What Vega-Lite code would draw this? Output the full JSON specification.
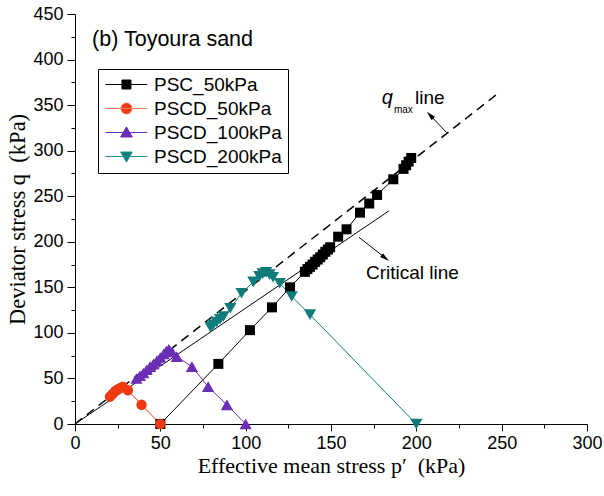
{
  "$schema": "https://vega.github.io/schema/vega-lite/v6.json",
  "width": 512,
  "height": 410,
  "autosize": {"type": "none"},
  "padding": {"left": 75, "top": 14, "right": 17, "bottom": 72},
  "background": "white",
  "config": {"view": {"stroke": null}, "font": "Liberation Sans"},
  "datasets": {
    "tests": [
      {"series": "PSC_50kPa", "i": 1, "p": 50, "q": 0},
      {"series": "PSC_50kPa", "i": 2, "p": 84, "q": 66},
      {"series": "PSC_50kPa", "i": 3, "p": 102.5, "q": 103},
      {"series": "PSC_50kPa", "i": 4, "p": 115.4, "q": 128},
      {"series": "PSC_50kPa", "i": 5, "p": 126, "q": 150},
      {"series": "PSC_50kPa", "i": 6, "p": 134.7, "q": 167},
      {"series": "PSC_50kPa", "i": 7, "p": 136.2, "q": 170},
      {"series": "PSC_50kPa", "i": 8, "p": 137.7, "q": 172.5},
      {"series": "PSC_50kPa", "i": 9, "p": 139.2, "q": 175},
      {"series": "PSC_50kPa", "i": 10, "p": 140.7, "q": 178},
      {"series": "PSC_50kPa", "i": 11, "p": 142.2, "q": 180.5},
      {"series": "PSC_50kPa", "i": 12, "p": 143.7, "q": 183},
      {"series": "PSC_50kPa", "i": 13, "p": 145.2, "q": 186},
      {"series": "PSC_50kPa", "i": 14, "p": 146.7, "q": 189},
      {"series": "PSC_50kPa", "i": 15, "p": 148.2, "q": 191.5},
      {"series": "PSC_50kPa", "i": 16, "p": 149.5, "q": 194},
      {"series": "PSC_50kPa", "i": 17, "p": 154.2, "q": 205.6},
      {"series": "PSC_50kPa", "i": 18, "p": 159.1, "q": 213.7},
      {"series": "PSC_50kPa", "i": 19, "p": 167, "q": 232},
      {"series": "PSC_50kPa", "i": 20, "p": 172.4, "q": 242},
      {"series": "PSC_50kPa", "i": 21, "p": 177, "q": 251.4},
      {"series": "PSC_50kPa", "i": 22, "p": 186.5, "q": 268.6},
      {"series": "PSC_50kPa", "i": 23, "p": 192.5, "q": 280},
      {"series": "PSC_50kPa", "i": 24, "p": 194, "q": 284},
      {"series": "PSC_50kPa", "i": 25, "p": 195.5, "q": 288},
      {"series": "PSC_50kPa", "i": 26, "p": 197, "q": 292},
      {"series": "PSCD_50kPa", "i": 1, "p": 50, "q": 0},
      {"series": "PSCD_50kPa", "i": 2, "p": 39, "q": 21},
      {"series": "PSCD_50kPa", "i": 3, "p": 31, "q": 37},
      {"series": "PSCD_50kPa", "i": 4, "p": 28, "q": 41},
      {"series": "PSCD_50kPa", "i": 5, "p": 26.5, "q": 39.5},
      {"series": "PSCD_50kPa", "i": 6, "p": 25, "q": 38},
      {"series": "PSCD_50kPa", "i": 7, "p": 23.5, "q": 36},
      {"series": "PSCD_50kPa", "i": 8, "p": 22, "q": 33},
      {"series": "PSCD_50kPa", "i": 9, "p": 20.5, "q": 30},
      {"series": "PSCD_100kPa", "i": 1, "p": 100, "q": 0},
      {"series": "PSCD_100kPa", "i": 2, "p": 89, "q": 21},
      {"series": "PSCD_100kPa", "i": 3, "p": 78, "q": 41},
      {"series": "PSCD_100kPa", "i": 4, "p": 68.5, "q": 63},
      {"series": "PSCD_100kPa", "i": 5, "p": 59.6, "q": 74},
      {"series": "PSCD_100kPa", "i": 6, "p": 57, "q": 79},
      {"series": "PSCD_100kPa", "i": 7, "p": 55, "q": 82},
      {"series": "PSCD_100kPa", "i": 8, "p": 53.5, "q": 80},
      {"series": "PSCD_100kPa", "i": 9, "p": 52, "q": 77},
      {"series": "PSCD_100kPa", "i": 10, "p": 50, "q": 73},
      {"series": "PSCD_100kPa", "i": 11, "p": 48, "q": 69.5},
      {"series": "PSCD_100kPa", "i": 12, "p": 46, "q": 66},
      {"series": "PSCD_100kPa", "i": 13, "p": 44, "q": 63},
      {"series": "PSCD_100kPa", "i": 14, "p": 42, "q": 59.5},
      {"series": "PSCD_100kPa", "i": 15, "p": 40, "q": 56},
      {"series": "PSCD_100kPa", "i": 16, "p": 38, "q": 53},
      {"series": "PSCD_100kPa", "i": 17, "p": 36, "q": 50},
      {"series": "PSCD_200kPa", "i": 1, "p": 200, "q": 0},
      {"series": "PSCD_200kPa", "i": 2, "p": 137.7, "q": 120},
      {"series": "PSCD_200kPa", "i": 3, "p": 127, "q": 140},
      {"series": "PSCD_200kPa", "i": 4, "p": 120, "q": 154.5},
      {"series": "PSCD_200kPa", "i": 5, "p": 116, "q": 161},
      {"series": "PSCD_200kPa", "i": 6, "p": 114, "q": 164},
      {"series": "PSCD_200kPa", "i": 7, "p": 112, "q": 166.5},
      {"series": "PSCD_200kPa", "i": 8, "p": 110, "q": 165},
      {"series": "PSCD_200kPa", "i": 9, "p": 108, "q": 162},
      {"series": "PSCD_200kPa", "i": 10, "p": 104.5, "q": 156},
      {"series": "PSCD_200kPa", "i": 11, "p": 97.6, "q": 143.5},
      {"series": "PSCD_200kPa", "i": 12, "p": 91, "q": 127},
      {"series": "PSCD_200kPa", "i": 13, "p": 87, "q": 118},
      {"series": "PSCD_200kPa", "i": 14, "p": 85, "q": 115},
      {"series": "PSCD_200kPa", "i": 15, "p": 83, "q": 112},
      {"series": "PSCD_200kPa", "i": 16, "p": 81, "q": 109},
      {"series": "PSCD_200kPa", "i": 17, "p": 79.5, "q": 106}
    ]
  },
  "layer": [
    {
      "data": {"values": [{"p": 0, "q": 0}, {"p": 184, "q": 234}]},
      "mark": {"type": "line", "color": "black", "strokeWidth": 1},
      "encoding": {
        "x": {"field": "p", "type": "quantitative", "scale": {"domain": [0, 300], "nice": false},
          "axis": {"values": [0, 50, 100, 150, 200, 250, 300], "title": "Effective mean stress p′ \u00a0(kPa)",
            "titleFont": "Liberation Serif", "titleFontSize": 22, "titleFontWeight": "normal", "titleColor": "black", "titlePadding": 3,
            "labelFont": "Liberation Sans", "labelFontSize": 18, "labelColor": "black", "labelPadding": 3, "labelFlush": false, "labelOverlap": false,
            "tickColor": "black", "tickSize": 7, "domainColor": "black", "grid": false}},
        "y": {"field": "q", "type": "quantitative", "scale": {"domain": [0, 450], "nice": false},
          "axis": {"values": [0, 50, 100, 150, 200, 250, 300, 350, 400, 450], "title": "Deviator stress q \u00a0(kPa)",
            "titleFont": "Liberation Serif", "titleFontSize": 22.5, "titleFontWeight": "normal", "titleColor": "black", "titlePadding": 3,
            "labelFont": "Liberation Sans", "labelFontSize": 18, "labelColor": "black", "labelPadding": 4, "labelFlush": false, "labelOverlap": false,
            "tickColor": "black", "tickSize": 8, "domainColor": "black", "grid": false}}
      }
    },
    {
      "data": {"values": [{"p": 0, "q": 0}, {"p": 248, "q": 363}]},
      "mark": {"type": "line", "color": "black", "strokeWidth": 1.5, "strokeDash": [9, 6]},
      "encoding": {
        "x": {"field": "p", "type": "quantitative",
          "axis": {"orient": "bottom", "values": [25, 75, 125, 175, 225, 275], "labels": false, "domain": false, "tickSize": 4, "tickColor": "black", "title": null, "grid": false}},
        "y": {"field": "q", "type": "quantitative",
          "axis": {"orient": "left", "values": [25, 75, 125, 175, 225, 275, 325, 375, 425], "labels": false, "domain": false, "tickSize": 4, "tickColor": "black", "title": null, "grid": false}}
      }
    },
    {
      "data": {"name": "tests"},
      "mark": {"type": "line", "strokeWidth": 1},
      "encoding": {
        "x": {"field": "p", "type": "quantitative", "axis": null},
        "y": {"field": "q", "type": "quantitative", "axis": null},
        "detail": {"field": "series"},
        "order": {"field": "i", "type": "quantitative"},
        "color": {"field": "series", "type": "nominal",
          "scale": {"domain": ["PSCD_100kPa", "PSC_50kPa", "PSCD_200kPa", "PSCD_50kPa"], "range": ["#6a2db5", "#000000", "#0e7c7b", "#ee3a12"]},
          "legend": null}
      }
    },
    {
      "data": {"name": "tests"},
      "transform": [{"filter": "datum.series === 'PSC_50kPa'"}],
      "mark": {"type": "point", "filled": true, "opacity": 1, "strokeWidth": 0, "shape": "square", "size": 100, "color": "#000000"},
      "encoding": {
        "x": {"field": "p", "type": "quantitative", "axis": null},
        "y": {"field": "q", "type": "quantitative", "axis": null}
      }
    },
    {
      "data": {"name": "tests"},
      "transform": [{"filter": "datum.series === 'PSCD_50kPa'"}],
      "mark": {"type": "point", "filled": true, "opacity": 1, "strokeWidth": 0, "shape": "circle", "size": 110, "color": "#ee3a12"},
      "encoding": {
        "x": {"field": "p", "type": "quantitative", "axis": null},
        "y": {"field": "q", "type": "quantitative", "axis": null}
      }
    },
    {
      "data": {"name": "tests"},
      "transform": [{"filter": "datum.series === 'PSCD_100kPa'"}],
      "mark": {"type": "point", "filled": true, "opacity": 1, "strokeWidth": 0, "shape": "triangle-up", "size": 150, "color": "#6a2db5"},
      "encoding": {
        "x": {"field": "p", "type": "quantitative", "axis": null},
        "y": {"field": "q", "type": "quantitative", "axis": null}
      }
    },
    {
      "data": {"name": "tests"},
      "transform": [{"filter": "datum.series === 'PSCD_200kPa'"}],
      "mark": {"type": "point", "filled": true, "opacity": 1, "strokeWidth": 0, "shape": "triangle-down", "size": 150, "color": "#0e7c7b"},
      "encoding": {
        "x": {"field": "p", "type": "quantitative", "axis": null},
        "y": {"field": "q", "type": "quantitative", "axis": null}
      }
    },
    {
      "data": {"name": "tests"},
      "transform": [{"filter": "datum.i < 0"}],
      "mark": {"type": "point", "filled": true, "opacity": 1, "strokeWidth": 1},
      "encoding": {
        "x": {"field": "p", "type": "quantitative", "axis": null},
        "y": {"field": "q", "type": "quantitative", "axis": null},
        "fill": {"field": "series", "type": "nominal",
          "scale": {"domain": ["PSC_50kPa", "PSCD_50kPa", "PSCD_100kPa", "PSCD_200kPa"], "range": ["#000000", "#ee3a12", "#6a2db5", "#0e7c7b"]},
          "legend": {"orient": "none", "legendX": 23, "legendY": 55, "title": null, "strokeColor": "black", "padding": 6,
            "labelFont": "Liberation Sans", "labelFontSize": 19, "labelColor": "black", "labelOffset": 31, "rowPadding": 4,
            "symbolSize": 324, "symbolStrokeWidth": 1, "symbolOpacity": 1}},
        "stroke": {"field": "series", "type": "nominal",
          "scale": {"domain": ["PSC_50kPa", "PSCD_50kPa", "PSCD_100kPa", "PSCD_200kPa"], "range": ["#000000", "#f07a5a", "#6a2db5", "#2a8f8d"]},
          "legend": {"orient": "none", "legendX": 23, "legendY": 55, "title": null, "strokeColor": "black", "padding": 6,
            "labelFont": "Liberation Sans", "labelFontSize": 19, "labelColor": "black", "labelOffset": 31, "rowPadding": 4,
            "symbolSize": 324, "symbolStrokeWidth": 1, "symbolOpacity": 1}},
        "shape": {"field": "series", "type": "nominal",
          "scale": {"domain": ["PSC_50kPa", "PSCD_50kPa", "PSCD_100kPa", "PSCD_200kPa"],
            "range": ["M-0.9,0H3.75M0.94,-0.5H1.94V0.5H0.94Z", "M-0.9,0H3.75M0.83,0A0.61,0.61,0,1,0,2.05,0A0.61,0.61,0,1,0,0.83,0Z", "M-0.9,0H3.75M1.44,-0.62L2.09,0.5L0.79,0.5Z", "M-0.9,0H3.75M1.44,0.62L2.09,-0.5L0.79,-0.5Z"]},
          "legend": {"orient": "none", "legendX": 23, "legendY": 55, "title": null, "strokeColor": "black", "padding": 6,
            "labelFont": "Liberation Sans", "labelFontSize": 19, "labelColor": "black", "labelOffset": 31, "rowPadding": 4,
            "symbolSize": 324, "symbolStrokeWidth": 1, "symbolOpacity": 1}}
      }
    },
    {
      "data": {"values": [{"p": 217.8, "q": 319.7, "a": "qmax"}, {"p": 207.8, "q": 339.5, "a": "qmax"}, {"p": 166.4, "q": 204.9, "a": "crit"}, {"p": 182, "q": 182, "a": "crit"}]},
      "mark": {"type": "line", "color": "black", "strokeWidth": 1},
      "encoding": {
        "x": {"field": "p", "type": "quantitative", "axis": null},
        "y": {"field": "q", "type": "quantitative", "axis": null},
        "detail": {"field": "a"}
      }
    },
    {
      "data": {"values": [{"p": 206.1, "q": 342.8}]},
      "mark": {"type": "point", "filled": true, "color": "black", "opacity": 1, "size": 40, "angle": -44, "shape": "M0,0L-0.75,3L0.75,3Z"},
      "encoding": {
        "x": {"field": "p", "type": "quantitative", "axis": null},
        "y": {"field": "q", "type": "quantitative", "axis": null}
      }
    },
    {
      "data": {"values": [{"p": 184, "q": 178.9}]},
      "mark": {"type": "point", "filled": true, "color": "black", "opacity": 1, "size": 40, "angle": 128, "shape": "M0,0L-0.75,3L0.75,3Z"},
      "encoding": {
        "x": {"field": "p", "type": "quantitative", "axis": null},
        "y": {"field": "q", "type": "quantitative", "axis": null}
      }
    },
    {
      "data": {"values": [{"p": 10, "q": 415, "t": "(b) Toyoura sand"}]},
      "mark": {"type": "text", "align": "left", "baseline": "alphabetic", "fontSize": 21.5, "font": "Liberation Sans", "color": "black"},
      "encoding": {
        "x": {"field": "p", "type": "quantitative", "axis": null},
        "y": {"field": "q", "type": "quantitative", "axis": null},
        "text": {"field": "t"}
      }
    },
    {
      "data": {"values": [{"p": 170.5, "q": 159, "t": "Critical line"}, {"p": 199.2, "q": 351, "t": "line"}]},
      "mark": {"type": "text", "align": "left", "baseline": "alphabetic", "fontSize": 19, "font": "Liberation Sans", "color": "black"},
      "encoding": {
        "x": {"field": "p", "type": "quantitative", "axis": null},
        "y": {"field": "q", "type": "quantitative", "axis": null},
        "text": {"field": "t"}
      }
    },
    {
      "data": {"values": [{"p": 179.7, "q": 351, "t": "q"}]},
      "mark": {"type": "text", "align": "left", "baseline": "alphabetic", "fontSize": 20, "fontStyle": "italic", "font": "Liberation Sans", "color": "black"},
      "encoding": {
        "x": {"field": "p", "type": "quantitative", "axis": null},
        "y": {"field": "q", "type": "quantitative", "axis": null},
        "text": {"field": "t"}
      }
    },
    {
      "data": {"values": [{"p": 186.9, "q": 341.5, "t": "max"}]},
      "mark": {"type": "text", "align": "left", "baseline": "alphabetic", "fontSize": 10, "font": "Liberation Sans", "color": "black"},
      "encoding": {
        "x": {"field": "p", "type": "quantitative", "axis": null},
        "y": {"field": "q", "type": "quantitative", "axis": null},
        "text": {"field": "t"}
      }
    }
  ],
  "resolve": {"axis": {"x": "independent", "y": "independent"}}
}
